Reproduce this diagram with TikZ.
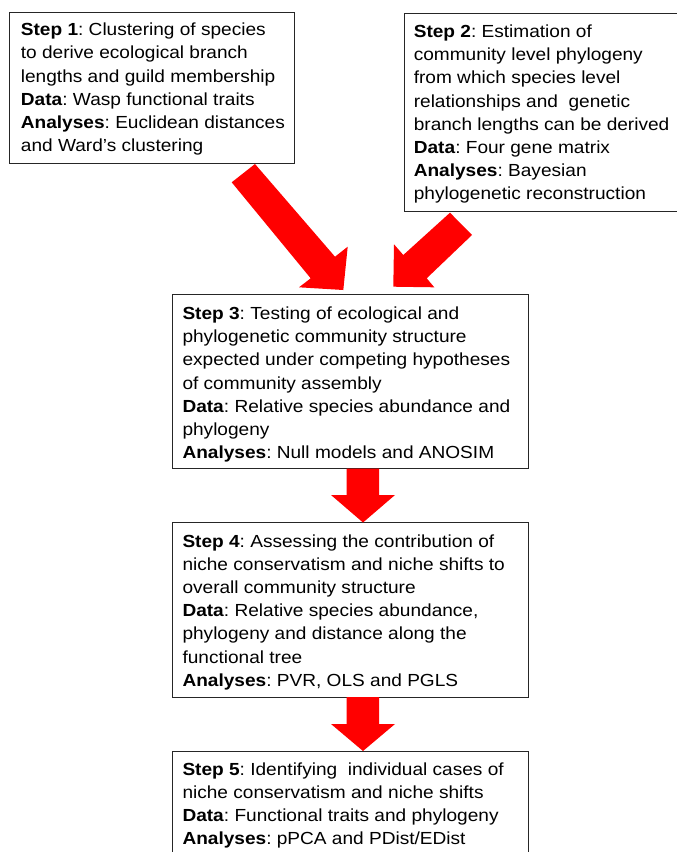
\documentclass[tikz,border=0pt]{standalone}
\usepackage{fontspec}
\setmainfont{Liberation Sans}[FakeStretch=1.09]
\frenchspacing
\begin{document}
\begin{tikzpicture}[x=1pt,y=-1pt,
  stepbox/.style={draw=black!85, line width=1pt, fill=white, rectangle, inner sep=0pt, anchor=north west},
  steptext/.style={anchor=north west, align=left, inner sep=0pt, font=\fontsize{17.5}{23.2}\selectfont\frenchspacing},
  redarrow/.style={fill=red, draw=none}]
\useasboundingbox (0,0) rectangle (677,852);
\clip (0,0) rectangle (677,852);
% boxes
\node[stepbox, minimum width=285.3pt, minimum height=150.4pt] (b1) at (9,12.3) {};
\node[stepbox, minimum width=274pt, minimum height=197.4pt] (b2) at (403.7,13.3) {};
\node[stepbox, minimum width=356.6pt, minimum height=174pt] (b3) at (171.7,294.3) {};
\node[stepbox, minimum width=356.6pt, minimum height=174.5pt] (b4) at (171.7,522.3) {};
\node[stepbox, minimum width=356.6pt, minimum height=130pt] (b5) at (171.7,750.7) {};
% texts
\node[steptext] (t1) at (20.7,21.5) {\rule{0pt}{14pt}\textbf{Step 1}: Clustering of species\\
to derive ecological branch\\
lengths and guild membership\\
\textbf{Data}: Wasp functional traits\\
\textbf{Analyses}: Euclidean distances\\
and Ward’s clustering};
\node[steptext] (t2) at (413.6,23.2) {\rule{0pt}{14pt}\textbf{Step 2}: Estimation of\\
community level phylogeny\\
from which species level\\
relationships and \ genetic\\
branch lengths can be derived\\
\textbf{Data}: Four gene matrix\\
\textbf{Analyses}: Bayesian\\
phylogenetic reconstruction};
\node[steptext] (t3) at (182.3,305.2) {\rule{0pt}{14pt}\textbf{Step 3}: Testing of ecological and\\
phylogenetic community structure\\
expected under competing hypotheses\\
of community assembly\\
\textbf{Data}: Relative species abundance and\\
phylogeny\\
\textbf{Analyses}: Null models and ANOSIM};
\node[steptext] (t4) at (182.3,532.8) {\rule{0pt}{14pt}\textbf{Step 4}: Assessing the contribution of\\
niche conservatism and niche shifts to\\
overall community structure\\
\textbf{Data}: Relative species abundance,\\
phylogeny and distance along the\\
functional tree\\
\textbf{Analyses}: PVR, OLS and PGLS};
\node[steptext] (t5) at (182.3,761) {\rule{0pt}{14pt}\textbf{Step 5}: Identifying \ individual cases of\\
niche conservatism and niche shifts\\
\textbf{Data}: Functional traits and phylogeny\\
\textbf{Analyses}: pPCA and PDist/EDist};
% arrows
\fill[redarrow] (255,164) -- (335,256.7) -- (347.7,246.7) -- (343.3,290) -- (299,287.3) -- (310.7,278.3) -- (231.7,182.3) -- cycle;
\fill[redarrow] (450,212.7) -- (472,235) -- (426.7,278.3) -- (434.3,287.3) -- (393.3,286.7) -- (394,244.3) -- (403.3,255) -- cycle;
\fill[redarrow] (346.7,468.5) -- (379,468.5) -- (379,495) -- (395,495) -- (363,522.5) -- (331,495) -- (346.7,495) -- cycle;
\fill[redarrow] (346.7,697) -- (379,697) -- (379,724) -- (395,724) -- (363,751) -- (331,724) -- (346.7,724) -- cycle;
\end{tikzpicture}
\end{document}
